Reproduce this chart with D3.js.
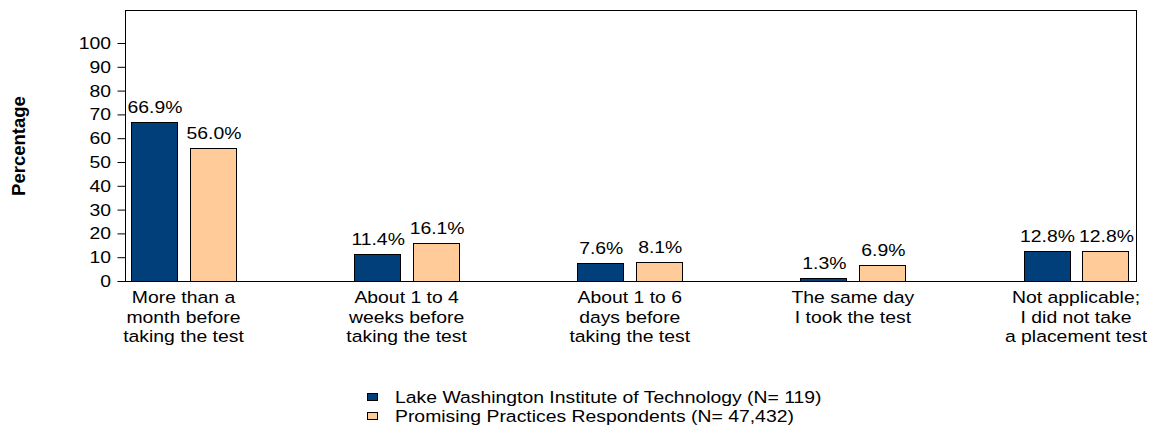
<!DOCTYPE html>
<html><head><meta charset="utf-8">
<script src="https://cdn.jsdelivr.net/npm/d3@7"></script>
<style>body{margin:0;background:#fff}svg{display:block}text{font-family:"Liberation Sans",Arial,sans-serif;fill:#000}</style>
</head><body>
<script>
const categories = [
  ["More than a","month before","taking the test"],
  ["About 1 to 4","weeks before","taking the test"],
  ["About 1 to 6","days before","taking the test"],
  ["The same day","I took the test"],
  ["Not applicable;","I did not take","a placement test"]
];
const seriesNames = ["Lake Washington Institute of Technology (N= 119)","Promising Practices Respondents (N= 47,432)"];
const lakeWashington = [66.9, 11.4, 7.6, 1.3, 12.8];
const promisingPractices = [56.0, 16.1, 8.1, 6.9, 12.8];
const yTicks = [0,10,20,30,40,50,60,70,80,90,100];
const colors = ["#003f7a","#ffcc99"];

const W=1149,H=428, SX=1.14, FS=17;
const svg=d3.select("body").append("svg").attr("width",W).attr("height",H);
const frame={l:125,t:10,r:1137,b:281};
const y=d3.scaleLinear().domain([0,100]).range([281,43]);
const catIdx=d3.range(categories.length);
const x0=d3.scalePoint().domain(catIdx).range([183.5,1076]);
const x1=d3.scaleBand().domain([0,1]).range([-52.5,52.5]).paddingInner(0.22);

function txt(g,x,yy,s,anchor,opts={}){
  const gg=g.append("g").attr("transform",`translate(${x},${yy}) scale(${SX},1)`);
  return gg.append("text").attr("text-anchor",anchor||"middle").attr("font-size",opts.fs||FS).text(s);
}

// frame
svg.append("rect").attr("x",frame.l+0.5).attr("y",frame.t+0.5).attr("width",frame.r-frame.l-1).attr("height",frame.b-frame.t)
  .attr("fill","none").attr("stroke","#000").attr("stroke-width",1);

// y axis
const yAxis=d3.axisLeft(y).tickValues(yTicks).tickSize(8).tickFormat("");
const ga=svg.append("g").attr("transform",`translate(${frame.l+0.5},0)`).call(yAxis);
ga.select(".domain").remove();
ga.selectAll(".tick line").attr("stroke","#000");
yTicks.forEach(t=>txt(svg,111,y(t)+6,String(t),"end"));

// y label
svg.append("text").attr("transform","translate(25,146) rotate(-90)").attr("text-anchor","middle")
  .attr("font-size",18.5).attr("font-weight","bold").text("Percentage");

// bars
const data=[lakeWashington,promisingPractices];
catIdx.forEach(i=>{
  data.forEach((arr,s)=>{
    const bx=x0(i)+x1(s), v=arr[i];
    svg.append("rect").attr("x",Math.round(bx)+0.5).attr("y",Math.round(y(v))+0.5)
      .attr("width",Math.round(x1.bandwidth())).attr("height",Math.max(0,Math.round(y(0))-Math.round(y(v))))
      .attr("fill",colors[s]).attr("stroke","#000").attr("stroke-width",1);
    txt(svg,bx+x1.bandwidth()/2+1,y(v)-9,v.toFixed(1)+"%","middle");
  });
  categories[i].forEach((line,k)=>txt(svg,x0(i),303+k*19.5,line,"middle"));
});

// legend
seriesNames.forEach((n,s)=>{
  const ly=397+s*19;
  svg.append("rect").attr("x",367.5).attr("y",ly-3.5).attr("width",10).attr("height",7)
    .attr("fill",colors[s]).attr("stroke","#000").attr("stroke-width",1);
  txt(svg,395,ly+6,n,"start");
});
</script>
</body></html>
